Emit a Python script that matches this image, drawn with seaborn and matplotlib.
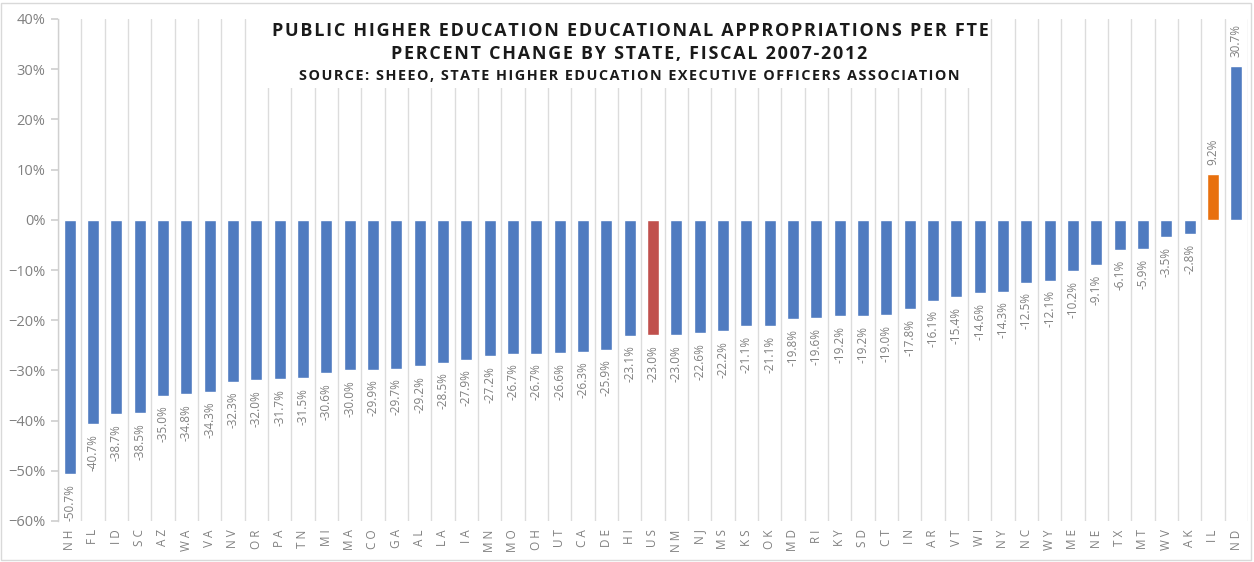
import matplotlib
matplotlib.use("Agg")
import matplotlib.pyplot as plt
import matplotlib.patches as mpatches
from matplotlib.ticker import FixedLocator, PercentFormatter
import seaborn as sns
import pandas as pd

# Percent change in educational appropriations per FTE, fiscal 2007-2012
states = ["NH", "FL", "ID", "SC", "AZ", "WA", "VA", "NV", "OR", "PA", "TN",
          "MI", "MA", "CO", "GA", "AL", "LA", "IA", "MN", "MO", "OH", "UT",
          "CA", "DE", "HI", "US", "NM", "NJ", "MS", "KS", "OK", "MD", "RI",
          "KY", "SD", "CT", "IN", "AR", "VT", "WI", "NY", "NC", "WY", "ME",
          "NE", "TX", "MT", "WV", "AK", "IL", "ND"]
pct_change = [-50.7, -40.7, -38.7, -38.5, -35.0, -34.8, -34.3, -32.3, -32.0,
              -31.7, -31.5, -30.6, -30.0, -29.9, -29.7, -29.2, -28.5, -27.9,
              -27.2, -26.7, -26.7, -26.6, -26.3, -25.9, -23.1, -23.0, -23.0,
              -22.6, -22.2, -21.1, -21.1, -19.8, -19.6, -19.2, -19.2, -19.0,
              -17.8, -16.1, -15.4, -14.6, -14.3, -12.5, -12.1, -10.2, -9.1,
              -6.1, -5.9, -3.5, -2.8, 9.2, 30.7]
y_ticks = [-60, -50, -40, -30, -20, -10, 0, 10, 20, 30, 40]

title_lines = ["PUBLIC HIGHER EDUCATION EDUCATIONAL APPROPRIATIONS PER FTE",
               "PERCENT CHANGE BY STATE, FISCAL 2007-2012",
               "SOURCE: SHEEO, STATE HIGHER EDUCATION EXECUTIVE OFFICERS ASSOCIATION"]

BLUE = "#4F7BC0"
RED = "#C0504D"
ORANGE = "#E8700E"
GRAY_TXT = "#808080"
GRID = "#DCDCDC"

bar_colors = {s: BLUE for s in states}
bar_colors["US"] = RED
bar_colors["IL"] = ORANGE


def spaced(text, gap="\u200a"):
    """Open up the tracking of a heading by inserting hair spaces."""
    return gap.join(text)


df = pd.DataFrame({"state": states, "pct": pct_change})

sns.set_theme(style="white")
plt.rcParams["font.family"] = ["Open Sans", "DejaVu Sans"]

fig = plt.figure(figsize=(12.54, 5.62), dpi=100)
ax = fig.add_axes([58 / 1254, 1 - 521 / 562, (1248 - 58) / 1254, (521 - 19) / 562])

sns.barplot(data=df, x="state", y="pct", hue="state", palette=bar_colors,
            legend=False, width=0.52, ax=ax, zorder=3, saturation=1)

ax.set_ylim(-60, 40)
ax.set_xlim(-0.5, len(states) - 0.5)
ax.yaxis.set_major_locator(FixedLocator(y_ticks))
ax.yaxis.set_major_formatter(PercentFormatter(decimals=0))
ax.set_xlabel("")
ax.set_ylabel("")

# vertical separators between categories
ax.xaxis.set_minor_locator(FixedLocator([i + 0.5 for i in range(-1, len(states))]))
ax.grid(which="minor", axis="x", color=GRID, linewidth=1.0, zorder=0)
ax.grid(which="major", axis="both", visible=False)
ax.set_axisbelow(True)

for side in ["top", "right", "bottom"]:
    ax.spines[side].set_visible(False)
ax.spines["left"].set_color("#D0D0D0")
ax.spines["left"].set_linewidth(1.0)

ax.tick_params(axis="y", which="major", left=True, length=5, color="#D0D0D0",
               labelsize=10.5, labelcolor=GRAY_TXT, pad=4)
ax.tick_params(axis="x", which="both", bottom=False, length=0)
ax.set_xticks(range(len(states)))
ax.set_xticklabels([" ".join(s) for s in states], rotation=90,
                   fontsize=8.5, color=GRAY_TXT, va="top", ha="center")
ax.tick_params(axis="x", pad=6)

# value labels at the bar ends
for i, v in enumerate(pct_change):
    off = -7 if v < 0 else 6
    ax.annotate(f"{v:.1f}%", xy=(i, v), xytext=(0, off),
                textcoords="offset points", rotation=90, ha="center",
                va="top" if v < 0 else "bottom", fontsize=8.5,
                color=GRAY_TXT, zorder=4)

# white panel behind the title
ax.add_patch(mpatches.Rectangle((255 / 1254, 1 - 88 / 562), 730 / 1254,
                                (88 - 14) / 562, transform=fig.transFigure,
                                facecolor="white", edgecolor="none", zorder=2))

fig.text(0.503, 1 - 31 / 562, spaced(title_lines[0]), ha="center", va="center",
         fontsize=13, fontweight="bold", color="#1A1A1A")
fig.text(0.502, 1 - 54 / 562, spaced(title_lines[1]), ha="center", va="center",
         fontsize=12.9, fontweight="bold", color="#1A1A1A")
fig.text(0.502, 1 - 76 / 562, spaced(title_lines[2]), ha="center", va="center",
         fontsize=10.4, fontweight="bold", color="#1A1A1A")

# light frame around the whole chart
fig.patches.append(mpatches.Rectangle((0.001, 0.004), 0.997, 0.99,
                                      transform=fig.transFigure, fill=False,
                                      edgecolor="#D9D9D9", linewidth=1.0))

fig.savefig("out.png", dpi=100, facecolor="white")
